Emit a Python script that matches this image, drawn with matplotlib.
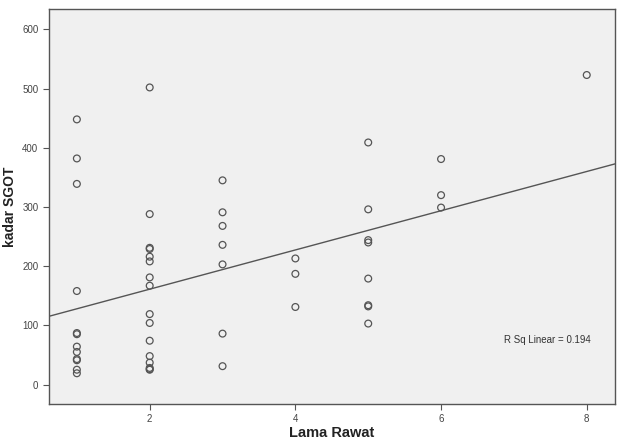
import numpy as np
import matplotlib
matplotlib.use('Agg')
import matplotlib.pyplot as plt

plt.rcParams['font.family'] = ['Liberation Sans', 'DejaVu Sans']

# lama rawat (days) and kadar SGOT
lama_1 = [448, 382, 339, 158, 87, 85, 64, 55, 43, 41, 25, 19]
lama_2 = [502, 288, 231, 229, 216, 208, 181, 167, 119, 104, 74, 48, 37, 28, 26, 25]
lama_3 = [345, 291, 268, 236, 203, 86, 31]
lama_4 = [213, 187, 131]
lama_5 = [409, 296, 244, 240, 179, 134, 132, 103]
lama_6 = [381, 320, 299]
lama_8 = [523]

groups = {1: lama_1, 2: lama_2, 3: lama_3, 4: lama_4, 5: lama_5, 6: lama_6, 8: lama_8}
x = np.concatenate([[k] * len(v) for k, v in groups.items()]).astype(float)
y = np.concatenate([v for v in groups.values()]).astype(float)

slope, intercept = np.polyfit(x, y, 1)
r2 = 0.194

fig = plt.figure(figsize=(6.17, 4.44), dpi=100)
ax = fig.add_axes([0.079, 0.09, 0.918, 0.889])
ax.set_facecolor('#f0f0f0')

ax.scatter(x, y, s=24, facecolors='none', edgecolors='#555555', linewidths=0.9, zorder=3)

xlim = (0.614, 8.39)
xs = np.array(xlim)
ax.plot(xs, intercept + slope * xs, color='#555555', lw=1.0, zorder=2)

ax.set_xlim(*xlim)
ax.set_ylim(-33, 634)
ax.set_xticks([2, 4, 6, 8])
ax.set_yticks(range(0, 601, 100))
ax.tick_params(direction='out', length=4, width=0.8, colors='#555555', labelsize=7, labelcolor='#444444')
for s in ax.spines.values():
    s.set_color('#555555')
    s.set_linewidth(1.0)

ax.set_xlabel('Lama Rawat', fontsize=10.5, fontweight='bold', color='#222222')
ax.set_ylabel('kadar SGOT', fontsize=10, fontweight='bold', color='#222222')
ax.xaxis.set_label_coords(0.5, -0.056)
ax.yaxis.set_label_coords(-0.056, 0.5)

ax.text(8.05, 75, 'R Sq Linear = %.3f' % r2, fontsize=7, color='#333333', ha='right', va='center')

fig.savefig('out.png', dpi=100)
